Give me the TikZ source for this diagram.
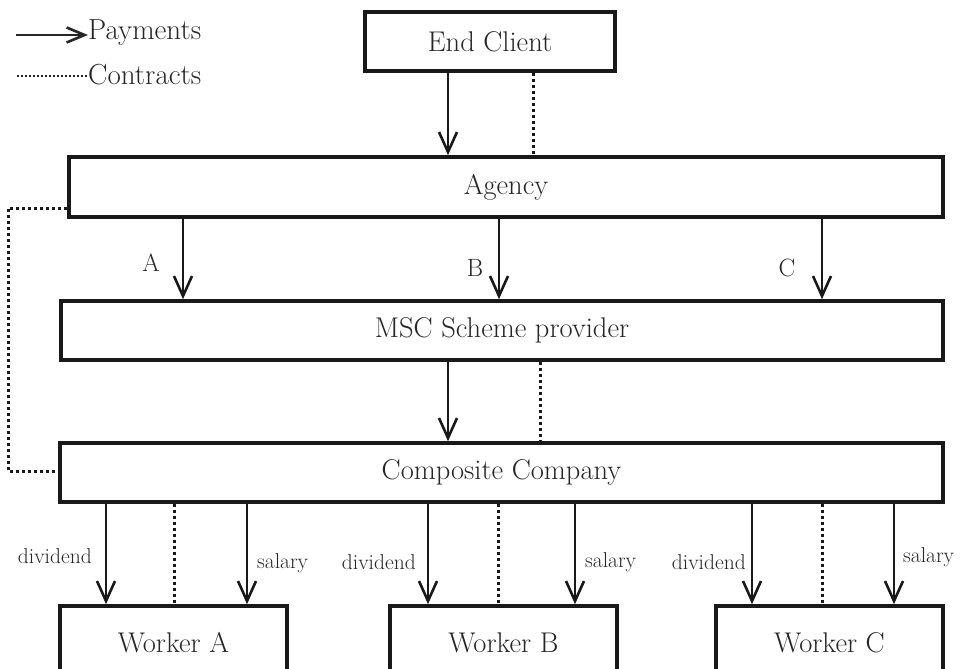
\documentclass[tikz,border=0pt]{standalone}
\usetikzlibrary{arrows.meta}
\begin{document}
\begin{tikzpicture}[x=1pt,y=-1pt,
  box/.style={draw=black!90,line width=3.6pt,fill=white,inner sep=0pt,font=\fontsize{28.5}{32}\selectfont,text=black!85},
  pay/.style={line width=2.6pt,draw=black!90,-{Straight Barb[length=20pt,width=18pt]}},
  con/.style={line width=3pt,draw=black!90,dash pattern=on 3pt off 3pt},
  lbl/.style={inner sep=0pt,font=\fontsize{21.5}{24}\selectfont,text=black!85},
  big/.style={inner sep=0pt,font=\fontsize{25}{28}\selectfont,text=black!85},
  leg/.style={inner sep=0pt,font=\fontsize{29}{32}\selectfont,text=black!85}]
\clip (0,0) rectangle (962,669);
\fill[white] (0,0) rectangle (962,669);
% boxes
\node[box,minimum width=250pt,minimum height=59pt] (ec) at (490,41.5) {End Client};
\node[box,minimum width=874pt,minimum height=60pt] (ag) at (506,187) {Agency};
\node[box,minimum width=882pt,minimum height=59pt] (msc) at (502,330.5) {MSC Scheme provider};
\node[box,minimum width=883pt,minimum height=59pt] (cc) at (501.5,472.5) {Composite Company};
\node[box,minimum width=227pt,minimum height=74pt] (wa) at (173.5,643) {Worker A};
\node[box,minimum width=227pt,minimum height=74pt] (wb) at (503.5,643) {Worker B};
\node[box,minimum width=227pt,minimum height=74pt] (wc) at (829.5,643) {Worker C};
% x positions
\coordinate (xe) at (448,0);
\coordinate (xed) at (533,0);
\coordinate (xa) at (183,0);
\coordinate (xb) at (499,0);
\coordinate (xc) at (822,0);
\coordinate (xm) at (448,0);
\coordinate (xmd) at (540,0);
\coordinate (a1) at (106,0);
\coordinate (a2) at (174,0);
\coordinate (a3) at (247,0);
\coordinate (b1) at (428,0);
\coordinate (b2) at (498,0);
\coordinate (b3) at (575,0);
\coordinate (c1) at (752,0);
\coordinate (c2) at (822,0);
\coordinate (c3) at (894,0);
\coordinate (ly1) at (0,208);
\coordinate (ly2) at (0,471);
\coordinate (lx) at (8,0);
% connectors
\draw[pay] (ec.south -| xe) -- (ag.north -| xe);
\draw[con] (ec.south -| xed) -- (ag.north -| xed);
\draw[pay] (ag.south -| xa) -- (msc.north -| xa);
\draw[pay] (ag.south -| xb) -- (msc.north -| xb);
\draw[pay] (ag.south -| xc) -- (msc.north -| xc);
\draw[pay] (msc.south -| xm) -- (cc.north -| xm);
\draw[con] (msc.south -| xmd) -- (cc.north -| xmd);
\draw[con] (ag.west |- ly1) -- (lx |- ly1) -- (lx |- ly2) -- (cc.west |- ly2);
\draw[pay] (cc.south -| a1) -- (wa.north -| a1);
\draw[con] (cc.south -| a2) -- (wa.north -| a2);
\draw[pay] (cc.south -| a3) -- (wa.north -| a3);
\draw[pay] (cc.south -| b1) -- (wb.north -| b1);
\draw[con] (cc.south -| b2) -- (wb.north -| b2);
\draw[pay] (cc.south -| b3) -- (wb.north -| b3);
\draw[pay] (cc.south -| c1) -- (wc.north -| c1);
\draw[con] (cc.south -| c2) -- (wc.north -| c2);
\draw[pay] (cc.south -| c3) -- (wc.north -| c3);
% labels
\node[big] (la) at (151,263) {A};
\node[big] (lb) at (475,268) {B};
\node[big] (lc) at (787,268) {C};
\node[lbl,anchor=east] (da) at (92,556) {dividend};
\node[lbl,anchor=west] (sa) at (257,563) {salary};
\node[lbl,anchor=east] (db) at (416,562) {dividend};
\node[lbl,anchor=west] (sb) at (585,562) {salary};
\node[lbl,anchor=east] (dc) at (746,562) {dividend};
\node[lbl,anchor=west] (sc) at (903,557) {salary};
% legend
\node[leg,anchor=west] (lp) at (88,33) {Payments};
\node[leg,anchor=west] (lcn) at (88,75) {Contracts};
\coordinate (lp0) at (16,35);
\coordinate (lc0) at (17,76);
\draw[line width=2.6pt,draw=black!85,-{Straight Barb[length=18pt,width=15pt]}] (lp0) -- (lp.west |- lp0);
\draw[line width=2pt,draw=black!85,dash pattern=on 2pt off 2pt] (lc0) -- (lcn.west |- lc0);
\end{tikzpicture}
\end{document}
